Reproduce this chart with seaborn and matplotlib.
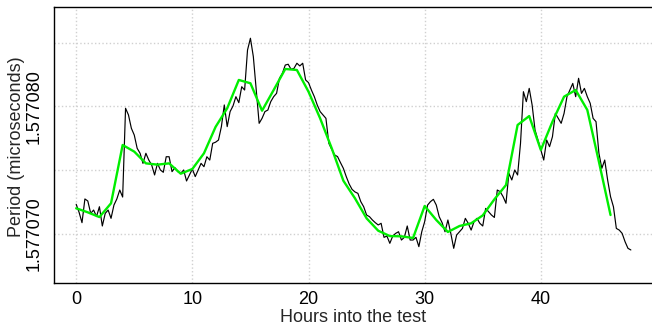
import numpy as np
import pandas as pd
import matplotlib
matplotlib.use("Agg")
import matplotlib.pyplot as plt
import seaborn as sns

# Period measured every 15 minutes (microseconds)
sample_step_h = 0.25
period_us = [
    1.57707233, 1.57707170, 1.57707089, 1.57707275, 1.57707259, 1.57707162, 1.57707188, 1.57707137,
    1.57707214, 1.57707063, 1.57707162, 1.57707188, 1.57707123, 1.57707227, 1.57707275, 1.57707345,
    1.57707290, 1.57707986, 1.57707934, 1.57707829, 1.57707776, 1.57707672, 1.57707633, 1.57707554,
    1.57707633, 1.57707580, 1.57707541, 1.57707463, 1.57707554, 1.57707502, 1.57707484, 1.57707606,
    1.57707606, 1.57707489, 1.57707520, 1.57707489, 1.57707476, 1.57707502, 1.57707416, 1.57707463,
    1.57707510, 1.57707450, 1.57707502, 1.57707554, 1.57707528, 1.57707606, 1.57707580, 1.57707711,
    1.57707720, 1.57707737, 1.57707842, 1.57708012, 1.57707842, 1.57707960, 1.57708004, 1.57708077,
    1.57708030, 1.57708155, 1.57708129, 1.57708443, 1.57708535, 1.57708391, 1.57708129, 1.57707868,
    1.57707907, 1.57707960, 1.57707972, 1.57708038, 1.57708077, 1.57708103, 1.57708221, 1.57708260,
    1.57708325, 1.57708331, 1.57708291, 1.57708299, 1.57708339, 1.57708318, 1.57708339, 1.57708208,
    1.57708187, 1.57708129, 1.57708077, 1.57708012, 1.57707960, 1.57707933, 1.57707907, 1.57707711,
    1.57707664, 1.57707620, 1.57707607, 1.57707560, 1.57707515, 1.57707450, 1.57707392, 1.57707350,
    1.57707330, 1.57707319, 1.57707254, 1.57707214, 1.57707149, 1.57707136, 1.57707110, 1.57707089,
    1.57707071, 1.57707084, 1.57706974, 1.57706984, 1.57706927, 1.57706984, 1.57707005, 1.57707018,
    1.57706953, 1.57706974, 1.57707063, 1.57706953, 1.57706953, 1.57706974, 1.57706901, 1.57707018,
    1.57707097, 1.57707227, 1.57707254, 1.57707272, 1.57707227, 1.57707136, 1.57707089, 1.57707018,
    1.57707110, 1.57707005, 1.57706888, 1.57706992, 1.57707018, 1.57707044, 1.57707123, 1.57707084,
    1.57707031, 1.57707097, 1.57707123, 1.57707084, 1.57707063, 1.57707201, 1.57707175, 1.57707149,
    1.57707130, 1.57707345, 1.57707332, 1.57707293, 1.57707241, 1.57707476, 1.57707424, 1.57707502,
    1.57707463, 1.57707711, 1.57708116, 1.57708038, 1.57708142, 1.57708012, 1.57707816, 1.57707737,
    1.57707659, 1.57707580, 1.57707737, 1.57707685, 1.57707763, 1.57707946, 1.57707907, 1.57707868,
    1.57707946, 1.57708077, 1.57708129, 1.57708181, 1.57708077, 1.57708221, 1.57708103, 1.57708142,
    1.57708077, 1.57708025, 1.57707907, 1.57707881, 1.57707633, 1.57707515, 1.57707580, 1.57707424,
    1.57707293, 1.57707214, 1.57707044, 1.57707031, 1.57707005, 1.57706940, 1.57706888, 1.57706875,
]

# Hourly mean period
hourly_mean_us = [
    1.57707202, 1.57707170, 1.57707133, 1.57707241, 1.57707698, 1.57707646, 1.57707554, 1.57707544,
    1.57707554, 1.57707473, 1.57707510, 1.57707633, 1.57707840, 1.57707986, 1.57708208, 1.57708182,
    1.57707967, 1.57708129, 1.57708294, 1.57708286, 1.57708116, 1.57707907, 1.57707672, 1.57707418,
    1.57707280, 1.57707123, 1.57707026, 1.57706984, 1.57706982, 1.57706969, 1.57707220, 1.57707110,
    1.57707016, 1.57707063, 1.57707084, 1.57707146, 1.57707272, 1.57707384, 1.57707855, 1.57707925,
    1.57707659, 1.57707881, 1.57708077, 1.57708129, 1.57707973, 1.57707567, 1.57707149,
]

x_ticks = [0, 10, 20, 30, 40]
y_ticks = [1.577070, 1.577075, 1.577080, 1.577085]
y_tick_labels = ["1.577070", "", "1.577080", ""]

raw = pd.DataFrame({"hours": np.arange(len(period_us)) * sample_step_h, "period": period_us})
hourly = pd.DataFrame({"hours": np.arange(len(hourly_mean_us)), "period": hourly_mean_us})

sns.set_style("white")
plt.rcParams["font.family"] = ["Liberation Sans", "DejaVu Sans"]

W, H = 652, 329
fig = plt.figure(figsize=(W / 100, H / 100), dpi=100)
ax = fig.add_axes([54 / W, 1 - 283 / H, (W - 54) / W, (283 - 7) / H])

sns.lineplot(data=raw, x="hours", y="period", ax=ax, color="black", linewidth=0.85)
sns.lineplot(data=hourly, x="hours", y="period", ax=ax, color="#00ee00", linewidth=1.7)

ax.set_xlim(-1.91, 49.57)
ax.set_ylim(1.57706616, 1.5770878)

ax.set_xticks(x_ticks)
ax.set_xticklabels([str(t) for t in x_ticks])
ax.set_yticks(y_ticks)
ax.set_yticklabels(y_tick_labels, rotation=90, va="center")

ax.grid(True, color="#d0d0d0", linestyle=":", linewidth=1.0)
ax.set_axisbelow(True)

for side in ["left", "bottom", "top"]:
    ax.spines[side].set_visible(True)
    ax.spines[side].set_color("black")
    ax.spines[side].set_linewidth(1.0)
ax.spines["right"].set_visible(False)

ax.tick_params(axis="both", which="major", direction="out", length=4, width=0.8,
               color="black", labelsize=13, labelcolor="black")
ax.tick_params(axis="x", pad=1.5)
ax.tick_params(axis="y", pad=4)

ax.set_xlabel("Hours into the test", fontsize=13, va="center")
ax.xaxis.set_label_coords(0.5, -(318 - 283) / 276)
ax.set_ylabel("Period (microseconds)", fontsize=13, va="center")
ax.yaxis.set_label_coords(-(54 - 17) / (W - 54), 0.493)

fig.savefig("out.png", dpi=100)
